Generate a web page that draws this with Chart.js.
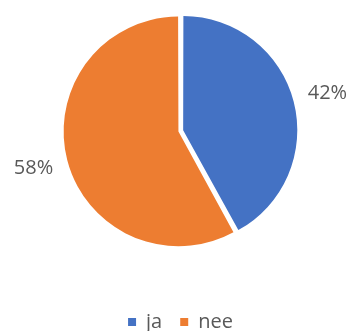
<!DOCTYPE html>
<html>
<head>
<meta charset="utf-8">
<script src="https://cdn.jsdelivr.net/npm/chart.js@4/dist/chart.umd.min.js"></script>
<style>
    html, body { margin: 0; padding: 0; background: #fff; }
    #wrap { width: 353px; height: 331px; }
</style>
</head>
<body>
<div id="wrap"><canvas id="pie"></canvas></div>
<script>
const answers = ['ja', 'nee'];
const shares = [42, 58];
const sliceColors = ['#4472C4', '#ED7D31'];

const TEXT = '#595959';
const FONT = '"Open Sans", "Liberation Sans", sans-serif';
const LABEL_GAP = 39;

// percentage labels sitting just outside each slice
const pctLabels = {
    id: 'pctLabels',
    afterDatasetsDraw(chart) {
        const ctx = chart.ctx;
        const meta = chart.getDatasetMeta(0);
        ctx.save();
        ctx.font = '20px ' + FONT;
        ctx.fillStyle = TEXT;
        ctx.textAlign = 'center';
        ctx.textBaseline = 'middle';
        meta.data.forEach((arc, i) => {
            const p = arc.getProps(['x', 'y', 'startAngle', 'endAngle', 'outerRadius'], true);
            const mid = (p.startAngle + p.endAngle) / 2;
            const d = p.outerRadius + LABEL_GAP;
            ctx.fillText(shares[i] + '%', p.x + Math.cos(mid) * d, p.y + Math.sin(mid) * d);
        });
        ctx.restore();
    }
};

new Chart(document.getElementById('pie').getContext('2d'), {
    type: 'pie',
    data: {
        labels: answers,
        datasets: [{
            data: shares,
            backgroundColor: sliceColors,
            borderWidth: 0,
            // pull the two slices slightly apart
            offset: [11, 8.5],
            hoverOffset: 0
        }]
    },
    options: {
        responsive: true, maintainAspectRatio: false,
        animation: false,
        layout: { padding: { top: 12.7, left: 20, right: 12, bottom: -11 } },
        plugins: {
            tooltip: { enabled: false },
            legend: {
                position: 'bottom',
                title: { display: true, text: '', padding: { top: 30.5, bottom: 0 } },
                labels: {
                    boxWidth: 8, boxHeight: 8, padding: 18,
                    color: TEXT,
                    font: { family: FONT, size: 20 }
                }
            }
        }
    },
    plugins: [pctLabels]
});
</script>
</body>
</html>
